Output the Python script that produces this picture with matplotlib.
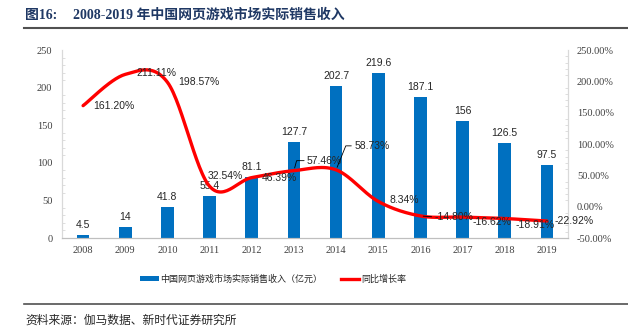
import matplotlib
matplotlib.use('Agg')
import matplotlib.pyplot as plt
import numpy as np
from matplotlib.patches import Patch
from matplotlib.lines import Line2D

years = ['2008', '2009', '2010', '2011', '2012', '2013', '2014', '2015', '2016', '2017', '2018', '2019']
revenue = [4.5, 14, 41.8, 55.4, 81.1, 127.7, 202.7, 219.6, 187.1, 156, 126.5, 97.5]
growth = [161.20, 211.11, 198.57, 32.54, 46.39, 57.46, 58.73, 8.34, -14.80, -16.62, -18.91, -22.92]
revenue_labels = ['4.5', '14', '41.8', '55.4', '81.1', '127.7', '202.7', '219.6', '187.1', '156', '126.5', '97.5']
growth_labels = ['161.20%', '211.11%', '198.57%', '32.54%', '46.39%', '57.46%', '58.73%',
                 '8.34%', '-14.80%', '-16.62%', '-18.91%', '-22.92%']
left_ticks = [0, 50, 100, 150, 200, 250]
right_ticks = [-50, 0, 50, 100, 150, 200, 250]

title_num = '图16:'
title_text = '2008-2019 年中国网页游戏市场实际销售收入'
legend_bar = '中国网页游戏市场实际销售收入（亿元）'
legend_line = '同比增长率'
source = '资料来源：伽马数据、新时代证券研究所'

CJK = ['Noto Sans CJK SC', 'DejaVu Sans']
SERIF_CJK = ['Liberation Serif', 'Noto Sans CJK SC']

fig = plt.figure(figsize=(6.28, 3.30), dpi=100)
ax = fig.add_axes([62/628, 1-238/330, (568-62)/628, (238-50)/330])
ax2 = ax.twinx()

x = np.arange(len(years))
bar_color = '#0070C0'
ax.bar(x, revenue, width=0.3, color=bar_color, zorder=2)
ax.set_xlim(-0.5, len(years)-0.5)
ax.set_ylim(0, 250)
ax.set_yticks(left_ticks)
ax.set_yticklabels([str(t) for t in left_ticks], family='Liberation Serif', fontsize=7.5, color='#404040')
ax.set_xticks(x)
ax.set_xticklabels(years, family='Liberation Serif', fontsize=7.5, color='#404040')
ax.tick_params(axis='y', length=0, pad=7)
ax.tick_params(axis='x', length=0, pad=6)
ax.set_yticks(np.arange(0, 251, 10), minor=True)
ax.tick_params(axis='y', which='minor', direction='in', length=2, color='#D9D9D9')

for xi, v, lab in zip(x, revenue, revenue_labels):
    ax.annotate(lab, (xi, v), xytext=(0, 5), textcoords='offset pixels',
                ha='center', va='bottom', fontsize=7.5, family='Liberation Sans', color='#262626')

# Smoothed line (Excel-style cubic Bezier through the data points)
P = np.column_stack([x, growth]).astype(float)
n = len(P)
xs, ys = [], []
t = np.linspace(0, 1, 30)
for i in range(n-1):
    p0 = P[i]; p3 = P[i+1]
    pm = P[i-1] if i > 0 else P[i]
    pp = P[i+2] if i+2 < n else P[i+1]
    p1 = p0 + (p3 - pm)/6
    p2 = p3 - (pp - p0)/6
    seg = ((1-t)**3)[:, None]*p0 + (3*(1-t)**2*t)[:, None]*p1 + (3*(1-t)*t**2)[:, None]*p2 + (t**3)[:, None]*p3
    xs.extend(seg[:, 0]); ys.extend(seg[:, 1])
ax2.plot(xs, ys, color='#FF0000', lw=2.4, solid_capstyle='round', zorder=3)
ax2.set_ylim(-50, 250)
ax2.set_yticks(right_ticks)
ax2.set_yticklabels(['%.2f%%' % t for t in right_ticks], family='Liberation Serif', fontsize=7.5, color='#404040')
ax2.tick_params(axis='y', length=0, pad=6.5)
ax2.set_yticks(np.arange(-50, 251, 10), minor=True)
ax2.tick_params(axis='y', which='minor', direction='in', length=2, color='#D9D9D9')

offsets = [(10, 0), (11, 1), (11, 0), (-2, 10), (10, 0), (13, 10), (18, 24),
           (11, 1), (14, -1), (10, -5), (11, -6), (8, 0)]
leaders = [None, None, None, None, None, 'angle,angleA=0,angleB=75,rad=0',
           'angle,angleA=0,angleB=68,rad=0', None, 'arc3,rad=0', None, None, None]
for xi, v, lab, off, ld in zip(x, growth, growth_labels, offsets, leaders):
    kw = {}
    if ld is not None:
        kw['arrowprops'] = dict(arrowstyle='-', color='black', lw=0.6, connectionstyle=ld,
                                relpos=(0, 0.5), shrinkA=0, shrinkB=2)
    ax2.annotate(lab, (xi, v), xytext=off, textcoords='offset pixels',
                 ha='left', va='center', fontsize=7.5, family='Liberation Sans', color='#262626',
                 zorder=4, **kw)

for a in (ax, ax2):
    a.spines['top'].set_visible(False)
    a.spines['left'].set_color('#D9D9D9')
    a.spines['right'].set_color('#D9D9D9')
    a.spines['bottom'].set_color('#BFBFBF')
    a.spines['left'].set_linewidth(0.8)
    a.spines['right'].set_linewidth(0.8)
    a.spines['bottom'].set_linewidth(0.8)

# Title
fig.text(25/628, 1-15/330, title_num, family=SERIF_CJK, fontsize=10, fontweight='bold',
         color='#1F3864', ha='left', va='center')
fig.text(73/628, 1-15/330, title_text, family=SERIF_CJK, fontsize=10, fontweight='bold',
         color='#1F3864', ha='left', va='center')
fig.add_artist(Line2D([24/628, 1], [1-28/330, 1-28/330], color='#505050', lw=1.5))

# Legend
handles = [Patch(facecolor=bar_color, edgecolor='none'), Line2D([0], [0], color='#FF0000', lw=2.4)]
leg = fig.legend(handles, [legend_bar, legend_line], loc='center', bbox_to_anchor=(273/628, 1-279/330),
                 ncol=2, frameon=False, prop={'family': CJK, 'size': 6.5},
                 handlelength=2.1, handleheight=0.6, handletextpad=0.2, columnspacing=2.0)
for txt in leg.get_texts():
    txt.set_color('#262626')

# Source
fig.add_artist(Line2D([24/628, 1], [1-304/330, 1-304/330], color='#505050', lw=1.2))
fig.text(25/628, 1-320/330, source, family=CJK, fontsize=8.5, color='#262626', ha='left', va='center')

fig.savefig('out.png', dpi=100)
